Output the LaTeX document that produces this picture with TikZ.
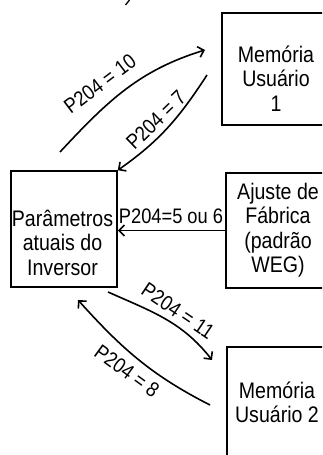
\documentclass[tikz,border=0pt]{standalone}
\usepackage{fontspec}
\setmainfont{Liberation Sans}
\newfontfamily\narrowsans[FakeStretch=0.87]{Liberation Sans}
\usetikzlibrary{arrows.meta}
\newcommand{\stk}[1]{\begin{tabular}[t]{@{}c@{}}#1\end{tabular}}
\begin{document}
\begin{tikzpicture}[x=1pt,y=1pt,
  box/.style={draw, line width=1.6pt, rectangle, inner sep=0pt},
  boxtext/.style={anchor=base, inner sep=0pt, font=\narrowsans\fontsize{22.5}{24.5}\selectfont},
  lab/.style={inner sep=0pt, font=\narrowsans\fontsize{21}{24}\selectfont},
  conn/.style={line width=1.6pt, -{Straight Barb[length=5.5pt,width=11pt]}}]
\useasboundingbox (0,0) rectangle (322,-455);
\clip (0,0) rectangle (322,-455);
% boxes
\node[box, minimum width=108, minimum height=112] (mem1) at (276,-69) {};
\node[boxtext] (mem1t) at (276,-62) {\stk{Memória\\Usuário\\1}};
\node[box, minimum width=106, minimum height=116] (par) at (64,-229) {};
\node[boxtext] (part) at (62.5,-226) {\stk{Parâmetros\\atuais do\\Inversor}};
\node[box, minimum width=104, minimum height=115] (ajs) at (278,-230.5) {};
\node[boxtext] (ajst) at (278,-199) {\stk{Ajuste de\\Fábrica\\(padrão\\WEG)}};
\node[box, minimum width=104, minimum height=112] (mem2) at (279,-403) {};
\node[boxtext] (mem2t) at (277,-398) {\stk{Memória\\Usuário 2}};
% free ends
\coordinate (s10) at (60,-152);
\coordinate (e10) at (205,-50);
\coordinate (s7) at (207,-75);
\coordinate (s11) at (108,-292);
\coordinate (e11) at (212,-360);
\coordinate (s8) at (210,-405);
\coordinate (e8) at (78,-300);
% connectors
\draw[conn] (s10) to[out=47,in=197] (e10);
\draw[conn] (s7) to[out=237,in=35] (par.north east);
\draw[conn] (ajs.west) -- (ajs.west -| par.east);
\draw[conn] (s11) to[out=-24,in=128] (e11);
\draw[conn] (s8) to[out=153,in=-48] (e8);
% labels
\node[lab, rotate=37] (l10) at (100,-84) {P204 = 10};
\node[lab, rotate=44] (l7) at (156,-120) {P204 = 7};
\node[lab, rotate=-34] (l11) at (178,-311) {P204 = 11};
\node[lab, rotate=-36] (l8) at (127,-371) {P204 = 8};
\node[lab, anchor=base] (l56) at (171,-223) {P204=5 ou 6};
% cut-off mark at the top
\coordinate (m1) at (129.5,0);
\coordinate (m2) at (125.5,-5);
\draw[line width=1.3pt] (m1) -- (m2);
\end{tikzpicture}
\end{document}
